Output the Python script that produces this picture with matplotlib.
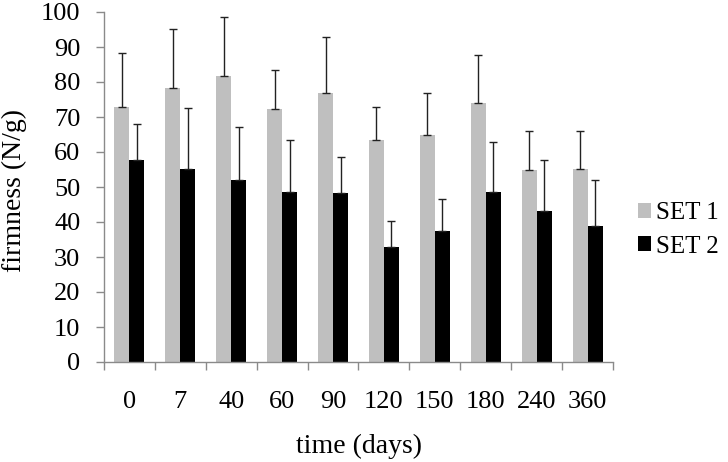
import numpy as np
import matplotlib
matplotlib.use("Agg")
import matplotlib.pyplot as plt

# Data
days = ["0", "7", "40", "60", "90", "120", "150", "180", "240", "360"]
set1 = [72.8, 78.3, 81.8, 72.2, 76.9, 63.3, 64.9, 73.9, 54.9, 55.1]
set2 = [57.8, 55.1, 51.9, 48.5, 48.2, 32.9, 37.3, 48.7, 43.1, 39.0]
set1_err = [15.5, 16.9, 16.8, 11.3, 16.1, 9.7, 11.9, 13.8, 11.0, 10.8]
set2_err = [10.2, 17.4, 15.2, 14.8, 10.5, 7.3, 9.3, 14.1, 14.6, 13.1]

plt.rcParams["font.family"] = ["Liberation Serif", "DejaVu Serif"]

fig = plt.figure(figsize=(7.28, 4.62), dpi=100)
ax = fig.add_axes([104 / 728, 1 - 362 / 462, 509 / 728, 350 / 462])

x = np.arange(len(days))
w = 0.295
axis_grey = "#8a8a8a"
err_style = dict(ecolor="#222222", elinewidth=1.0, capsize=3, capthick=1.0)

ax.bar(x - w / 2, set1, w, color="#bfbfbf", label="SET 1",
       yerr=[np.zeros(len(set1)), set1_err], error_kw=err_style, zorder=2)
ax.bar(x + w / 2, set2, w, color="black", label="SET 2",
       yerr=[np.zeros(len(set2)), set2_err], error_kw=err_style, zorder=2)

ax.set_xlim(-0.5, len(days) - 0.5)
ax.set_ylim(0, 100)
ax.set_yticks(np.arange(0, 101, 10))

# category labels at centres, tick marks at the boundaries
ax.set_xticks(x)
ax.set_xticklabels(days)
ax.set_xticks(np.arange(-0.5, len(days), 1), minor=True)
ax.tick_params(axis="x", which="major", length=0, pad=21, labelsize=19)
ax.tick_params(axis="x", which="minor", length=6, width=1, color=axis_grey,
               direction="out")
ax.tick_params(axis="y", length=6, width=1, color=axis_grey, pad=11,
               labelsize=19)

for side in ["top", "right"]:
    ax.spines[side].set_visible(False)
for side in ["left", "bottom"]:
    ax.spines[side].set_color(axis_grey)
    ax.spines[side].set_linewidth(1)

ax.set_xlabel("time (days)", fontsize=20)
ax.xaxis.set_label_coords(0.501, -0.205)
ax.set_ylabel("firmness (N/g)", fontsize=20)
ax.yaxis.set_label_coords(-0.151, 0.491)

fig.legend(loc="center left", bbox_to_anchor=(638 / 728, 1 - 230 / 462),
           frameon=False, fontsize=18, handlelength=0.52, handleheight=0.52,
           handletextpad=0.22, labelspacing=0.45, borderpad=0,
           borderaxespad=0)

fig.savefig("out.png", dpi=100)
